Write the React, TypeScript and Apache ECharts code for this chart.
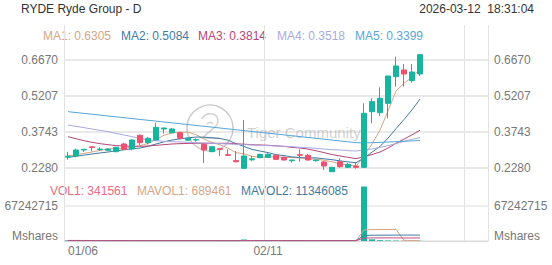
import React, { useEffect, useRef } from 'react';
import * as echarts from 'echarts';

const categories = ['01/06','01/07','01/08','01/09','01/12','01/13','01/14','01/15','01/16','01/20','01/21','01/22','01/23','01/26','01/27','01/28','01/29','01/30','02/02','02/03','02/04','02/05','02/06','02/09','02/10','02/11','02/12','02/13','02/18','02/19','02/20','02/23','02/24','02/25','02/26','02/27','03/02','03/03','03/04','03/05','03/06','03/09','03/10','03/11','03/12'];
const padSlots = ['03/13','03/16','03/17','03/18','03/19','03/20','03/23','03/24'];

const opens = [0.272, 0.2768, 0.301, 0.314, 0.303, 0.300, 0.2944, 0.3256, 0.3052, 0.3608, 0.331, 0.3418, 0.3865, 0.3716, 0.3716, 0.341, 0.342, 0.3242, 0.2944, 0.3066, 0.2822, 0.258, 0.2266, 0.2612, 0.2700, 0.2713, 0.2795, 0.2714, 0.2578, 0.2822, 0.2795, 0.2578, 0.2524, 0.2131, 0.2537, 0.2307, 0.2361, 0.2307, 0.4570, 0.4529, 0.4909, 0.5993, 0.6264, 0.5830, 0.6101];
const closes = [0.276, 0.3012, 0.304, 0.311, 0.305, 0.305, 0.312, 0.3039, 0.3418, 0.331, 0.349, 0.3933, 0.3905, 0.3865, 0.3486, 0.349, 0.343, 0.3012, 0.3147, 0.3039, 0.2795, 0.253, 0.2768, 0.2652, 0.2836, 0.2836, 0.2632, 0.2605, 0.2605, 0.2795, 0.2605, 0.2605, 0.2361, 0.2307, 0.2334, 0.2429, 0.2307, 0.4502, 0.4977, 0.5112, 0.6020, 0.6426, 0.6101, 0.6182, 0.6887];
const lows = [0.262, 0.2714, 0.293, 0.296, 0.297, 0.297, 0.292, 0.300, 0.300, 0.322, 0.324, 0.338, 0.368, 0.370, 0.346, 0.338, 0.335, 0.2483, 0.293, 0.2768, 0.279, 0.252, 0.2266, 0.257, 0.268, 0.268, 0.260, 0.259, 0.2497, 0.2537, 0.258, 0.254, 0.220, 0.211, 0.229, 0.228, 0.2253, 0.228, 0.4096, 0.4394, 0.4299, 0.5586, 0.5586, 0.5749, 0.6020];
const highs = [0.294, 0.3066, 0.305, 0.316, 0.312, 0.309, 0.314, 0.330, 0.345, 0.364, 0.353, 0.4123, 0.392, 0.390, 0.376, 0.352, 0.348, 0.327, 0.318, 0.3066, 0.304, 0.297, 0.4231, 0.2768, 0.286, 0.2876, 0.283, 0.274, 0.261, 0.3039, 0.285, 0.262, 0.2565, 0.233, 0.267, 0.248, 0.2497, 0.4909, 0.5112, 0.5559, 0.6020, 0.6806, 0.6508, 0.6508, 0.6914];

const ma1 = [0.2768, 0.2822, 0.2876, 0.2930, 0.2994, 0.3052, 0.3074, 0.3074, 0.3135, 0.3187, 0.3275, 0.3438, 0.3611, 0.3701, 0.3736, 0.3736, 0.3635, 0.3457, 0.3313, 0.3224, 0.3085, 0.2905, 0.2856, 0.2757, 0.2716, 0.2724, 0.2745, 0.2712, 0.2703, 0.2695, 0.2648, 0.2643, 0.2594, 0.2535, 0.2442, 0.2407, 0.2348, 0.2776, 0.3260, 0.3820, 0.4600, 0.5407, 0.5727, 0.5968, 0.6305];
const ma2 = [0.2714, 0.2760, 0.2805, 0.2850, 0.2890, 0.2930, 0.2975, 0.3020, 0.3060, 0.3091, 0.3164, 0.3256, 0.3343, 0.3418, 0.3462, 0.3506, 0.3537, 0.3534, 0.3507, 0.3480, 0.3410, 0.3270, 0.3156, 0.3035, 0.2970, 0.2905, 0.2825, 0.2784, 0.2730, 0.2705, 0.2686, 0.2694, 0.2653, 0.2619, 0.2569, 0.2528, 0.2495, 0.2685, 0.2922, 0.3154, 0.3495, 0.3878, 0.4252, 0.4639, 0.5084];
const ma3 = [0.3554, 0.3472, 0.3391, 0.3323, 0.3269, 0.3229, 0.3188, 0.3174, 0.3161, 0.3161, 0.3174, 0.3201, 0.3229, 0.3256, 0.3270, 0.3280, 0.3285, 0.3285, 0.3285, 0.3285, 0.3287, 0.3263, 0.3249, 0.3226, 0.3216, 0.3205, 0.3181, 0.3159, 0.3118, 0.3093, 0.3048, 0.2982, 0.2905, 0.2827, 0.2769, 0.2716, 0.2660, 0.2735, 0.2826, 0.2930, 0.3091, 0.3286, 0.3452, 0.3629, 0.3814];
const ma4 = [0.4028, 0.3974, 0.3920, 0.3865, 0.3811, 0.3757, 0.3689, 0.3621, 0.3554, 0.3486, 0.3418, 0.3391, 0.3364, 0.3350, 0.3337, 0.3323, 0.3310, 0.3296, 0.3283, 0.3269, 0.3256, 0.3242, 0.3229, 0.3215, 0.3201, 0.3188, 0.3174, 0.3161, 0.3147, 0.3120, 0.3107, 0.3079, 0.3052, 0.3025, 0.3012, 0.2985, 0.2971, 0.3012, 0.3052, 0.3120, 0.3188, 0.3269, 0.3364, 0.3445, 0.3518];
const ma5 = [0.4570, 0.4535, 0.4500, 0.4466, 0.4430, 0.4394, 0.4360, 0.4325, 0.4290, 0.4254, 0.4220, 0.4186, 0.4150, 0.4116, 0.4080, 0.4046, 0.4010, 0.3975, 0.3940, 0.3905, 0.3870, 0.3836, 0.3800, 0.3766, 0.3730, 0.3696, 0.3660, 0.3626, 0.3590, 0.3556, 0.3520, 0.3486, 0.3450, 0.3416, 0.3380, 0.3346, 0.3310, 0.3300, 0.3310, 0.3322, 0.3335, 0.3350, 0.3365, 0.3382, 0.3399];

const volumes = [1450000, 1100000, 600000, 520000, 380000, 300000, 420000, 450000, 700000, 650000, 480000, 900000, 520000, 380000, 610000, 350000, 280000, 900000, 450000, 380000, 310000, 560000, 2900000, 700000, 420000, 380000, 330000, 290000, 260000, 480000, 350000, 240000, 520000, 610000, 390000, 300000, 350000, 104663545, 3200000, 1500000, 1050000, 820000, 690000, 545744, 341561];
const mavol1 = [1200000, 1150000, 1000000, 900000, 810000, 580000, 444000, 414000, 450000, 504000, 540000, 640000, 650000, 586000, 578000, 548000, 428000, 504000, 518000, 472000, 454000, 520000, 1020000, 970000, 978000, 976000, 946000, 424000, 336000, 348000, 342000, 324000, 370000, 440000, 422000, 415000, 438000, 21262000, 21780000, 22002000, 22152000, 22246000, 1452000, 921000, 689461];
const mavol2 = [900000, 880000, 860000, 820000, 760000, 700000, 690000, 660000, 640000, 600000, 560000, 540000, 545000, 535000, 541000, 545000, 532000, 552000, 527000, 514000, 497000, 470000, 695000, 705000, 710000, 735000, 740000, 713000, 684000, 701000, 705000, 673000, 694000, 699000, 700000, 692000, 689000, 10816000, 11110000, 11212000, 11282000, 11340000, 11357000, 11350000, 11346085];
const mavol3 = [700000, 690000, 680000, 670000, 650000, 640000, 630000, 620000, 610000, 600000, 600000, 610000, 600000, 590000, 590000, 580000, 570000, 600000, 590000, 580000, 560000, 540000, 640000, 640000, 640000, 640000, 630000, 620000, 610000, 600000, 590000, 580000, 580000, 590000, 580000, 580000, 590000, 5760000, 5890000, 5940000, 5980000, 5990000, 5880000, 5870000, 5870000];

const priceTicks = [0.2280, 0.3743, 0.5207, 0.6670];
const volumeTicks = [0, 67242715];

const maNames = ['MA1', 'MA2', 'MA3', 'MA4', 'MA5'];
const maLast = ['0.6305', '0.5084', '0.3814', '0.3518', '0.3399'];
const volNames = ['VOL1', 'MAVOL1', 'MAVOL2'];
const volLast = ['341561', '689461', '11346085'];

const title = 'RYDE Ryde Group - D';
const stamp = '2026-03-12  18:31:04';

const FONT = "'Liberation Sans', Arial, Helvetica, sans-serif";
const UP = '#17b4a0';
const DOWN = '#f0506e';
const MA_COLORS = ['#d6a585', '#3f7aa2', '#b5467a', '#a9a9e3', '#55a6dc'];
const VOL_COLORS = ['#ec6b82', '#d6a585', '#3f7aa2'];
const HGRID = '#e9e9e9';
const VGRID = '#e2e2e2';
const LABEL = '#777777';

echarts.graphic.registerShape(
  'tigerGlyph',
  echarts.graphic.extendPath('M-8,-9 C-5,-16 7,-16 8,-8 C9,-1 -1,2 -7,10 L9,10 M-3,-4 C-1,-6 2,-6 3,-4', {})
);

export default function App() {
  const ref = useRef<HTMLDivElement>(null);

  useEffect(() => {
    if (!ref.current) return;
    const chart = echarts.init(ref.current, null, { renderer: 'svg' });
    const allCats = categories.concat(padSlots);
    const splitIdx = (i: number) => i === 0 || i === 25 || i === 50;

    const maX = [43, 121, 198, 277, 355];
    const volX = [50, 137, 241];

    const graphic: any[] = [
      { type: 'text', x: 21, y: 9, style: { text: title, fill: '#333', font: `12px ${FONT}`, verticalAlign: 'middle', align: 'left' } },
      { type: 'text', x: 534, y: 9, style: { text: stamp, fill: '#333', font: `12px ${FONT}`, verticalAlign: 'middle', align: 'right' } },
      { type: 'circle', z: 1, shape: { cx: 210, cy: 128, r: 23 }, style: { fill: 'none', stroke: 'rgba(150,150,150,0.5)', lineWidth: 1.5 } },
      { type: 'tigerGlyph', z: 1, x: 210, y: 128, style: { fill: 'none', stroke: 'rgba(150,150,150,0.45)', lineWidth: 1.5 } },
      { type: 'text', z: 1, x: 247, y: 132, style: { text: 'Tiger Community', fill: 'rgba(150,150,150,0.45)', font: `15px ${FONT}`, verticalAlign: 'middle', align: 'left' } },
    ];
    maNames.forEach((n, i) => {
      graphic.push({ type: 'text', x: maX[i], y: 36, style: { text: `${n}: ${maLast[i]}`, fill: MA_COLORS[i], font: `12px ${FONT}`, verticalAlign: 'middle', align: 'left' } });
    });
    volNames.forEach((n, i) => {
      graphic.push({ type: 'text', x: volX[i], y: 191, style: { text: `${n}: ${volLast[i]}`, fill: VOL_COLORS[i], font: `12px ${FONT}`, verticalAlign: 'middle', align: 'left' } });
    });

    const priceAxis = (pos: 'left' | 'right', split: boolean) => ({
      type: 'value', gridIndex: 0, position: pos, min: 0.19955, max: 0.80926,
      axisLine: { show: false },
      axisTick: { show: false, customValues: priceTicks },
      axisLabel: { customValues: priceTicks, formatter: (v: number) => v.toFixed(4), color: LABEL, fontSize: 12, margin: 6, showMinLabel: true, showMaxLabel: true },
      splitLine: { show: split, lineStyle: { color: HGRID, width: 2 } },
    });
    const volAxis = (pos: 'left' | 'right', split: boolean) => ({
      type: 'value', gridIndex: 1, position: pos, min: 0, max: 126800000,
      axisLine: { show: false },
      axisTick: { show: false, customValues: volumeTicks },
      axisLabel: { customValues: volumeTicks, formatter: (v: number) => (v === 0 ? 'Mshares\n' : String(Math.round(v))), color: LABEL, fontSize: 12, lineHeight: 10, margin: 6, showMinLabel: true, showMaxLabel: true },
      splitLine: { show: split, lineStyle: { color: HGRID, width: 1.5 } },
    });

    const maSeries = [ma1, ma2, ma3, ma4, ma5].map((d, i) => ({
      name: maNames[i], type: 'line', xAxisIndex: 0, yAxisIndex: 0, data: d,
      showSymbol: false, symbol: 'none', lineStyle: { width: 1, color: MA_COLORS[i] }, z: 3,
    }));
    const mavolSeries = [mavol1, mavol2, mavol3].map((d, i) => ({
      name: 'MAVOL' + (i + 1), type: 'line', xAxisIndex: 1, yAxisIndex: 2, data: d,
      showSymbol: false, symbol: 'none', lineStyle: { width: 1, color: ['#d6a585', '#3f7aa2', '#c2507f'][i] }, z: 3,
    }));

    const option: any = {
      animation: false,
      textStyle: { fontFamily: FONT },
      graphic,
      grid: [
        { left: 64, right: 64, top: 25, height: 150 },
        { left: 64, right: 64, top: 175, height: 66 },
      ],
      xAxis: [
        {
          type: 'category', gridIndex: 0, data: allCats, boundaryGap: true,
          axisLine: { show: false }, axisTick: { show: false }, axisLabel: { show: false },
          splitLine: { show: true, interval: (i: number) => splitIdx(i), lineStyle: { color: VGRID } },
        },
        {
          type: 'category', gridIndex: 1, data: allCats, boundaryGap: true,
          axisLine: { show: true, lineStyle: { color: '#dadada' } }, axisTick: { show: false },
          axisLabel: { show: true, interval: (i: number) => i === 0 || i === 25, color: LABEL, fontSize: 12, margin: 4, alignMinLabel: 'left' },
          splitLine: { show: true, interval: (i: number) => splitIdx(i), lineStyle: { color: VGRID } },
        },
      ],
      yAxis: [priceAxis('left', true), priceAxis('right', false), volAxis('left', true), volAxis('right', false)],
      series: [
        {
          name: 'K', type: 'candlestick', xAxisIndex: 0, yAxisIndex: 0,
          data: opens.map((o, i) => [o, closes[i], lows[i], highs[i]]),
          barWidth: 5,
          itemStyle: { color: UP, color0: DOWN, borderColor: UP, borderColor0: DOWN, borderWidth: 1 },
          z: 4,
        },
        ...maSeries,
        {
          name: 'VOL', type: 'bar', xAxisIndex: 1, yAxisIndex: 2, barWidth: 6,
          data: volumes.map((v, i) => ({ value: v, itemStyle: { color: closes[i] >= opens[i] ? UP : DOWN } })),
          z: 2,
        },
        ...mavolSeries,
      ],
    };
    chart.setOption(option);
    return () => chart.dispose();
  }, []);

  return <div ref={ref} style={{ position: 'fixed', left: 0, top: 0, width: 552, height: 265, background: '#fff' }} />;
}
